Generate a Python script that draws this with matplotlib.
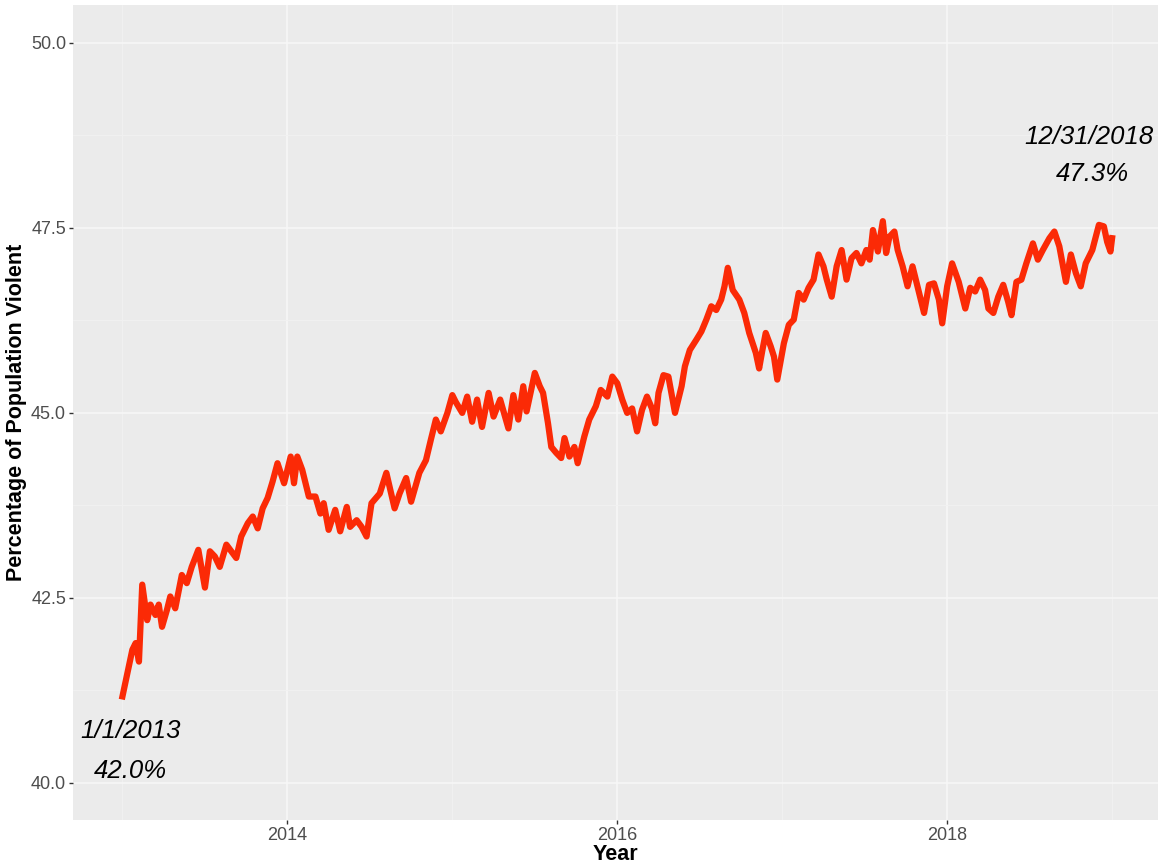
import numpy as np
import matplotlib.pyplot as plt
from matplotlib.ticker import FixedLocator, FuncFormatter

# Share of population (%), as decimal year / value pairs
year = [
    2013.00, 2013.06, 2013.08, 2013.10, 2013.12, 2013.15, 2013.17, 2013.20, 2013.22, 2013.24,
    2013.27, 2013.29, 2013.32, 2013.36, 2013.39, 2013.42, 2013.46, 2013.50, 2013.53, 2013.56,
    2013.59, 2013.63, 2013.66, 2013.69, 2013.72, 2013.76, 2013.79, 2013.82, 2013.85, 2013.88,
    2013.91, 2013.94, 2013.98, 2014.02, 2014.04, 2014.06, 2014.09, 2014.13, 2014.17, 2014.20,
    2014.22, 2014.25, 2014.29, 2014.32, 2014.36, 2014.38, 2014.42, 2014.45, 2014.48, 2014.51,
    2014.56, 2014.60, 2014.65, 2014.68, 2014.72, 2014.75, 2014.80, 2014.84, 2014.87, 2014.90,
    2014.93, 2014.97, 2015.00, 2015.02, 2015.06, 2015.09, 2015.12, 2015.15, 2015.18, 2015.22,
    2015.25, 2015.29, 2015.34, 2015.37, 2015.40, 2015.43, 2015.45, 2015.50, 2015.53, 2015.55,
    2015.58, 2015.60, 2015.63, 2015.66, 2015.68, 2015.71, 2015.74, 2015.76, 2015.80, 2015.83,
    2015.87, 2015.90, 2015.94, 2015.97, 2016.00, 2016.03, 2016.06, 2016.09, 2016.12, 2016.15,
    2016.18, 2016.21, 2016.23, 2016.25, 2016.28, 2016.31, 2016.35, 2016.39, 2016.41, 2016.44,
    2016.48, 2016.51, 2016.54, 2016.57, 2016.60, 2016.63, 2016.65, 2016.67, 2016.70, 2016.74,
    2016.77, 2016.80, 2016.84, 2016.86, 2016.88, 2016.90, 2016.93, 2016.95, 2016.97, 2017.01,
    2017.04, 2017.07, 2017.10, 2017.13, 2017.16, 2017.19, 2017.22, 2017.25, 2017.27, 2017.30,
    2017.33, 2017.36, 2017.39, 2017.42, 2017.45, 2017.48, 2017.51, 2017.53, 2017.55, 2017.58,
    2017.61, 2017.63, 2017.65, 2017.68, 2017.70, 2017.73, 2017.76, 2017.79, 2017.82, 2017.86,
    2017.89, 2017.92, 2017.95, 2017.97, 2018.00, 2018.03, 2018.07, 2018.11, 2018.14, 2018.17,
    2018.20, 2018.23, 2018.25, 2018.28, 2018.31, 2018.34, 2018.37, 2018.39, 2018.42, 2018.45,
    2018.48, 2018.52, 2018.55, 2018.58, 2018.62, 2018.65, 2018.68, 2018.72, 2018.75, 2018.78,
    2018.81, 2018.84, 2018.88, 2018.92, 2018.95, 2018.97, 2018.99, 2019.00,
]
pct_violent = [
    41.17, 41.80, 41.89, 41.64, 42.68, 42.20, 42.41, 42.27, 42.41, 42.11,
    42.34, 42.52, 42.36, 42.81, 42.70, 42.92, 43.15, 42.64, 43.13, 43.06,
    42.92, 43.22, 43.13, 43.04, 43.33, 43.51, 43.60, 43.44, 43.71, 43.85,
    44.07, 44.32, 44.05, 44.41, 44.05, 44.41, 44.23, 43.87, 43.87, 43.64,
    43.78, 43.42, 43.69, 43.40, 43.73, 43.46, 43.55, 43.46, 43.33, 43.78,
    43.91, 44.19, 43.71, 43.91, 44.12, 43.80, 44.19, 44.36, 44.64, 44.91,
    44.75, 45.00, 45.24, 45.15, 45.00, 45.22, 44.88, 45.18, 44.81, 45.27,
    44.95, 45.18, 44.79, 45.24, 44.91, 45.36, 45.02, 45.54, 45.36, 45.27,
    44.86, 44.54, 44.46, 44.39, 44.66, 44.41, 44.54, 44.32, 44.68, 44.91,
    45.09, 45.31, 45.22, 45.49, 45.40, 45.18, 45.00, 45.06, 44.75, 45.04,
    45.22, 45.06, 44.86, 45.27, 45.51, 45.49, 45.00, 45.36, 45.63, 45.85,
    45.99, 46.10, 46.26, 46.44, 46.39, 46.53, 46.71, 46.96, 46.66, 46.53,
    46.35, 46.08, 45.81, 45.60, 45.85, 46.08, 45.90, 45.76, 45.45, 45.94,
    46.19, 46.26, 46.62, 46.53, 46.69, 46.80, 47.14, 46.98, 46.80, 46.57,
    46.98, 47.20, 46.80, 47.09, 47.16, 47.02, 47.20, 47.07, 47.47, 47.18,
    47.59, 47.16, 47.38, 47.45, 47.20, 46.98, 46.71, 46.98, 46.71, 46.35,
    46.73, 46.75, 46.53, 46.21, 46.71, 47.02, 46.77, 46.41, 46.69, 46.64,
    46.80, 46.66, 46.41, 46.35, 46.57, 46.73, 46.50, 46.32, 46.77, 46.80,
    47.02, 47.29, 47.07, 47.20, 47.36, 47.45, 47.25, 46.77, 47.14, 46.89,
    46.71, 47.02, 47.20, 47.54, 47.52, 47.31, 47.18, 47.36,
]

x_ticks = [2014, 2016, 2018]
y_ticks = [40.0, 42.5, 45.0, 47.5, 50.0]
start_label = ['1/1/2013', '42.0%']
end_label = ['12/31/2018', '47.3%']

plt.rcParams['font.family'] = ['Liberation Sans', 'DejaVu Sans']

fig = plt.figure(figsize=(11.62, 8.67), dpi=100)
ax = fig.add_axes([0.0628, 0.0542, 0.934, 0.94])
ax.set_facecolor('#ebebeb')

ax.plot(year, pct_violent, color='#fb2a06', linewidth=4.5, solid_joinstyle='round')

ax.set_xlim(2012.70, 2019.28)
ax.set_ylim(39.50, 50.51)

ax.xaxis.set_major_locator(FixedLocator(x_ticks))
ax.yaxis.set_major_locator(FixedLocator(y_ticks))
ax.xaxis.set_minor_locator(FixedLocator([2013, 2015, 2017, 2019]))
ax.yaxis.set_minor_locator(FixedLocator([41.25, 43.75, 46.25, 48.75]))
ax.xaxis.set_major_formatter(FuncFormatter(lambda v, p: f'{int(v)}'))
ax.yaxis.set_major_formatter(FuncFormatter(lambda v, p: f'{v:.1f}'))

# grid is very faint in the original
ax.grid(which='major', color='#f7f7f7', linewidth=1.1)
ax.grid(which='minor', color='#f1f1f1', linewidth=0.6)
ax.set_axisbelow(True)
for s in ax.spines.values():
    s.set_visible(False)

ax.tick_params(which='major', length=3, width=1, color='#333333',
               labelcolor='#4d4d4d', labelsize=13, pad=2)
ax.tick_params(which='minor', length=0)

ax.set_xlabel('Year', fontsize=15.5, fontweight='bold', labelpad=0)
ax.set_ylabel('Percentage of Population Violent', fontsize=15.5, fontweight='bold', labelpad=3)

# start / end annotations
ax.text(2013.05, 40.70, start_label[0], fontsize=18.5, style='italic', ha='center', va='center')
ax.text(2013.05, 40.16, start_label[1], fontsize=18.5, style='italic', ha='center', va='center')
ax.text(2018.86, 48.73, end_label[0], fontsize=18.5, style='italic', ha='center', va='center')
ax.text(2018.88, 48.23, end_label[1], fontsize=18.5, style='italic', ha='center', va='center')

plt.savefig('out.png', dpi=100)
